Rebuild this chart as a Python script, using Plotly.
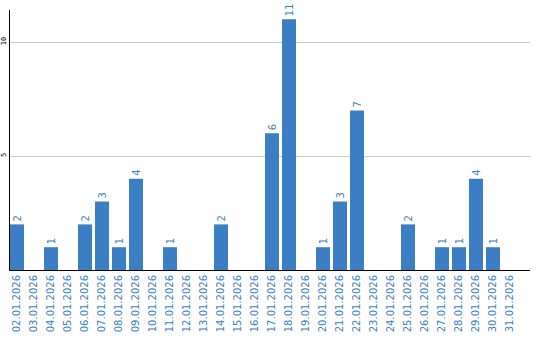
import plotly.graph_objects as go

dates = ["02.01.2026","03.01.2026","04.01.2026","05.01.2026","06.01.2026","07.01.2026",
         "08.01.2026","09.01.2026","10.01.2026","11.01.2026","12.01.2026","13.01.2026",
         "14.01.2026","15.01.2026","16.01.2026","17.01.2026","18.01.2026","19.01.2026",
         "20.01.2026","21.01.2026","22.01.2026","23.01.2026","24.01.2026","25.01.2026",
         "26.01.2026","27.01.2026","28.01.2026","29.01.2026","30.01.2026","31.01.2026"]
counts = [2,0,1,0,2,3,1,4,0,1,0,0,2,0,0,6,11,0,1,3,7,0,0,2,0,1,1,4,1,0]
y_ticks = [5, 10]

blue = "#3b7ec4"
labels = [str(v) if v else "" for v in counts]

fig = go.Figure(go.Bar(
    x=dates, y=counts, text=labels, textposition="outside", textangle=-90,
    textfont=dict(family="DejaVu Sans", size=10, color=blue),
    marker=dict(color=blue, line=dict(width=0)),
    width=14/17, cliponaxis=False,
))
fig.update_layout(
    width=540, height=340, margin=dict(l=10, r=10, t=10, b=70),
    paper_bgcolor="white", plot_bgcolor="white", showlegend=False,
    uniformtext=dict(minsize=10, mode="show"),
)
fig.update_xaxes(
    type="category", range=[-7/17, -7/17 + 520/17], tickangle=-90,
    tickfont=dict(family="DejaVu Sans", size=10, color=blue),
    showline=True, linecolor="black", linewidth=1, ticks="", showgrid=False,
    automargin=False,
)
fig.update_yaxes(
    range=[0, 260/22.8], tickvals=y_ticks, tickangle=-90,
    tickfont=dict(family="DejaVu Sans Mono", size=7, color="black"),
    showline=True, linecolor="black", linewidth=1, ticks="",
    showgrid=True, gridcolor="#cccccc", gridwidth=1, zeroline=False,
    automargin=False, ticklabelstandoff=0,
)
fig.write_html("out.html")
